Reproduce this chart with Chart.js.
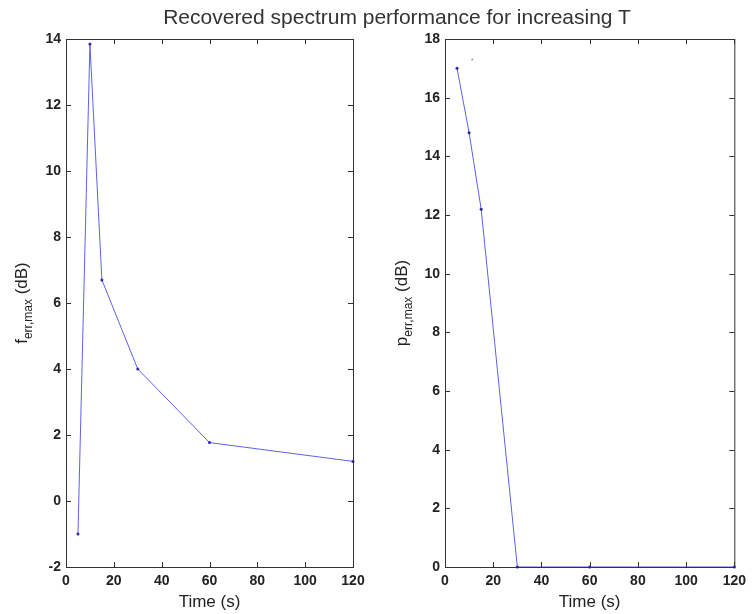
<!DOCTYPE html>
<html>
<head>
<meta charset="utf-8">
<script src="https://cdn.jsdelivr.net/npm/chart.js@4.4.1/dist/chart.umd.min.js"></script>
<style>
  body { margin: 0; background: #fff; }
  #wrap { position: relative; width: 752px; height: 614px; overflow: hidden; }
  #title {
    position: absolute; left: 0; width: 794px; top: 5px; text-align: center;
    font: 21px "Liberation Sans", Arial, sans-serif; color: #333;
  }
  canvas { position: absolute; top: 0; }
  #left { left: 0; }
  #right { left: 376px; }
</style>
</head>
<body>
<div id="wrap">
  <canvas id="left" width="376" height="614"></canvas>
  <canvas id="right" width="376" height="614"></canvas>
  <div id="title">Recovered spectrum performance for increasing T</div>
</div>
<script>
// data
const timeF = [5, 10, 15, 30, 60, 120];
const fErr = [-1.0, 13.85, 6.7, 4.0, 1.77, 1.2];
const timeP = [5, 10, 15, 30, 60, 120];
const pErr = [17.0, 14.8, 12.2, 0, 0, 0];
const strayT = [11.3];
const strayP = [17.3];

const xTicks = [0, 20, 40, 60, 80, 100, 120];
const fTicks = [-2, 0, 2, 4, 6, 8, 10, 12, 14];
const pTicks = [0, 2, 4, 6, 8, 10, 12, 14, 16, 18];

const lineColor = 'rgb(95,95,235)';
const dotColor = 'rgb(40,40,170)';
const axisColor = '#333';
const tickFont = { family: '"Liberation Sans", Arial, sans-serif', size: 14, weight: 'bold' };

const toPts = (xs, ys) => xs.map((x, i) => ({ x: x, y: ys[i] }));

// box + inward ticks on all four sides, axis titles (with subscript)
const matlabAxes = {
  id: 'matlabAxes',
  afterDraw(chart, args, opts) {
    const { ctx, chartArea: a, scales } = chart;
    ctx.save();
    ctx.strokeStyle = axisColor;
    ctx.lineWidth = 1;
    ctx.strokeRect(a.left + 0.5, a.top + 0.5, a.right - a.left, a.bottom - a.top);
    ctx.beginPath();
    opts.xTicks.forEach(v => {
      const px = Math.round(scales.x.getPixelForValue(v)) + 0.5;
      ctx.moveTo(px, a.bottom); ctx.lineTo(px, a.bottom - 5);
      ctx.moveTo(px, a.top); ctx.lineTo(px, a.top + 5);
    });
    opts.yTicks.forEach(v => {
      const py = Math.round(scales.y.getPixelForValue(v)) + 0.5;
      ctx.moveTo(a.left, py); ctx.lineTo(a.left + 5, py);
      ctx.moveTo(a.right, py); ctx.lineTo(a.right - 5, py);
    });
    ctx.stroke();

    ctx.fillStyle = '#222';
    ctx.font = '17px "Liberation Sans", Arial, sans-serif';
    ctx.textAlign = 'center';
    ctx.textBaseline = 'alphabetic';
    ctx.fillText('Time (s)', (a.left + a.right) / 2, a.bottom + 40);

    // y label: main letter + subscript + unit
    const mainFont = '17px "Liberation Sans", Arial, sans-serif';
    const subFont = '12px "Liberation Sans", Arial, sans-serif';
    ctx.font = mainFont; const w1 = ctx.measureText(opts.yMain).width;
    ctx.font = subFont; const w2 = ctx.measureText(opts.ySub).width;
    ctx.font = mainFont; const w3 = ctx.measureText(' (dB)').width;
    const total = w1 + w2 + w3;
    ctx.translate(opts.yLabelX, (a.top + a.bottom) / 2);
    ctx.rotate(-Math.PI / 2);
    ctx.textAlign = 'left';
    let x = -total / 2;
    ctx.font = mainFont; ctx.fillText(opts.yMain, x, 0); x += w1;
    ctx.font = subFont; ctx.fillText(opts.ySub, x, 5); x += w2;
    ctx.font = mainFont; ctx.fillText(' (dB)', x, 0);
    ctx.restore();
  }
};

function makeChart(id, datasets, yMin, yMax, padRight, yWidth, plugOpts) {
  return new Chart(document.getElementById(id), {
    type: 'line',
    data: { datasets: datasets },
    options: {
      responsive: false,
      animation: false,
      layout: { padding: { top: 39, right: padRight, left: 0, bottom: 0 } },
      plugins: { legend: { display: false }, tooltip: { enabled: false }, matlabAxes: plugOpts },
      scales: {
        x: {
          type: 'linear', min: 0, max: 120,
          afterBuildTicks: s => { s.ticks = xTicks.map(v => ({ value: v })); },
          afterFit: s => { s.height = 47; },
          grid: { display: false, drawTicks: false },
          border: { display: false },
          ticks: { color: '#222', font: tickFont, padding: 6, maxRotation: 0 }
        },
        y: {
          min: yMin, max: yMax,
          afterBuildTicks: s => { s.ticks = plugOpts.yTicks.map(v => ({ value: v })); },
          afterFit: s => { s.width = yWidth; },
          grid: { display: false, drawTicks: false },
          border: { display: false },
          ticks: { color: '#222', font: tickFont, padding: 5 }
        }
      }
    },
    plugins: [matlabAxes]
  });
}

makeChart('left', [{
  data: toPts(timeF, fErr),
  borderColor: lineColor, borderWidth: 1,
  pointRadius: 1.5, pointBackgroundColor: dotColor, pointBorderWidth: 0,
  tension: 0, clip: false
}], -2, 14, 23, 66, { xTicks: xTicks, yTicks: fTicks, yMain: 'f', ySub: 'err,max', yLabelX: 27 });

makeChart('right', [{
  data: toPts(timeP, pErr),
  borderColor: lineColor, borderWidth: 1,
  pointRadius: 1.5, pointBackgroundColor: dotColor, pointBorderWidth: 0,
  tension: 0, clip: false
}, {
  data: toPts(strayT, strayP),
  showLine: false,
  pointRadius: 1, pointBackgroundColor: '#999', pointBorderWidth: 0
}], 0, 18, 14, 69, { xTicks: xTicks, yTicks: pTicks, yMain: 'p', ySub: 'err,max', yLabelX: 31 });
</script>
</body>
</html>
